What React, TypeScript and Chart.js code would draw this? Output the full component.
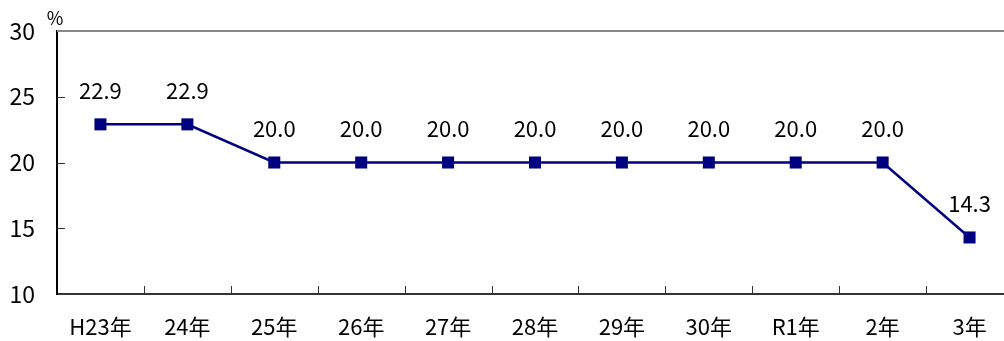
import React, { useEffect, useRef } from "react";
import { Chart, registerables } from "chart.js";

Chart.register(...registerables);

const categories = ["H23年", "24年", "25年", "26年", "27年", "28年", "29年", "30年", "R1年", "2年", "3年"];
const rates = [22.9, 22.9, 20.0, 20.0, 20.0, 20.0, 20.0, 20.0, 20.0, 20.0, 14.3];
const yTicks = [10, 15, 20, 25, 30];
const unitLabel = "%";

const FONT = '"Noto Sans CJK JP", "Noto Sans", sans-serif';
const NAVY = "#000080";

const decorations = {
  id: "decorations",
  afterDraw(chart: any) {
    const { ctx, chartArea } = chart;
    const y = chart.scales.y;
    ctx.save();
    // top frame line
    ctx.strokeStyle = "#888888";
    ctx.lineWidth = 2;
    ctx.beginPath();
    ctx.moveTo(chartArea.left, chartArea.top);
    ctx.lineTo(chartArea.right, chartArea.top);
    ctx.stroke();
    // inward y tick marks
    ctx.strokeStyle = "#333333";
    ctx.lineWidth = 1;
    for (const v of yTicks) {
      if (v === yTicks[0] || v === yTicks[yTicks.length - 1]) continue;
      const py = Math.round(y.getPixelForValue(v)) + 0.5;
      ctx.beginPath();
      ctx.moveTo(chartArea.left, py);
      ctx.lineTo(chartArea.left + 8, py);
      ctx.stroke();
    }
    // category separators on the x axis
    const step = (chartArea.right - chartArea.left) / categories.length;
    for (let i = 1; i < categories.length; i++) {
      const px = Math.round(chartArea.left + i * step) + 0.5;
      ctx.beginPath();
      ctx.moveTo(px, chartArea.bottom);
      ctx.lineTo(px, chartArea.bottom - 8);
      ctx.stroke();
    }
    // value labels
    ctx.fillStyle = "#000000";
    ctx.font = `22px ${FONT}`;
    ctx.textAlign = "center";
    ctx.textBaseline = "middle";
    const meta = chart.getDatasetMeta(0);
    meta.data.forEach((pt: any, i: number) => {
      ctx.fillText(rates[i].toFixed(1), pt.x, pt.y - 34);
    });
    // unit label
    ctx.font = `18px ${FONT}`;
    ctx.fillText(unitLabel, chartArea.left - 2, 18);
    ctx.restore();
  },
};

export default function App() {
  const ref = useRef<HTMLCanvasElement>(null);

  useEffect(() => {
    if (!ref.current) return;
    const chart = new Chart(ref.current, {
      type: "line",
      data: {
        labels: categories,
        datasets: [
          {
            data: rates,
            borderColor: NAVY,
            backgroundColor: NAVY,
            borderWidth: 2.5,
            pointStyle: "rect",
            pointRadius: 8.5,
            pointHoverRadius: 8.5,
            pointBackgroundColor: NAVY,
            pointBorderColor: NAVY,
            pointBorderWidth: 0,
            tension: 0,
            clip: false,
          },
        ],
      },
      options: {
        responsive: false,
        animation: false,
        events: [],
        layout: { padding: { top: 31, right: 17, left: 0, bottom: 0 } },
        plugins: { legend: { display: false }, tooltip: { enabled: false } },
        scales: {
          x: {
            offset: true,
            grid: { display: false, drawTicks: false },
            border: { display: true, color: "#333333", width: 2 },
            ticks: { color: "#000000", font: { family: FONT, size: 22 }, padding: 19, maxRotation: 0, autoSkip: false },
            afterFit(scale: any) {
              scale.height = 47;
              scale.paddingLeft = 0;
              scale.paddingRight = 0;
            },
          },
          y: {
            min: 10,
            max: 30,
            grid: { display: false, drawTicks: false },
            border: { display: true, color: "#000000", width: 2 },
            ticks: { stepSize: 5, color: "#000000", font: { family: FONT, size: 23 }, padding: 22 },
            afterFit(scale: any) {
              scale.width = 57;
              scale.paddingTop = 0;
              scale.paddingBottom = 0;
            },
          },
        },
      },
      plugins: [decorations],
    });
    return () => chart.destroy();
  }, []);

  return (
    <div style={{ position: "fixed", left: 0, top: 0, width: 1004, height: 341, overflow: "hidden", background: "#ffffff" }}>
      <canvas ref={ref} width={1030} height={341} style={{ display: "block", width: 1030, height: 341 }} />
    </div>
  );
}
